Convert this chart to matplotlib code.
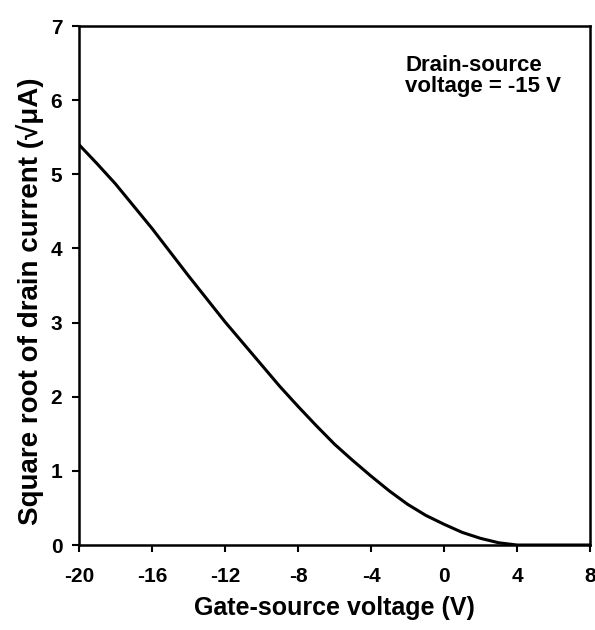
import numpy as np
import matplotlib
matplotlib.use("Agg")
import matplotlib.pyplot as plt

# Transfer curve, one point per volt
gate_v = [-20, -19, -18, -17, -16, -15, -14, -13, -12, -11, -10, -9, -8, -7,
          -6, -5, -4, -3, -2, -1, 0, 1, 2, 3, 4, 5, 6, 7, 8]
sqrt_id = [5.40, 5.14, 4.87, 4.57, 4.27, 3.95, 3.63, 3.32, 3.01, 2.72, 2.43,
           2.14, 1.87, 1.61, 1.36, 1.14, 0.93, 0.73, 0.55, 0.40, 0.28, 0.17,
           0.09, 0.03, 0.0, 0.0, 0.0, 0.0, 0.0]

x_ticks = [-20, -16, -12, -8, -4, 0, 4, 8]
y_ticks = [0, 1, 2, 3, 4, 5, 6, 7]

plt.rcParams['font.family'] = ['Liberation Sans', 'DejaVu Sans']
plt.rcParams['font.weight'] = 'bold'
plt.rcParams['axes.unicode_minus'] = False

fig = plt.figure(figsize=(5.95, 6.3), dpi=100)
ax = fig.add_axes([0.1328, 0.1349, 0.8588, 0.8238])

ax.plot(gate_v, sqrt_id, color='black', linewidth=2.2)

ax.set_xlim(-20, 8)
ax.set_ylim(0, 7)
ax.set_xticks(x_ticks)
ax.set_yticks(y_ticks)
ax.tick_params(direction='out', length=5, width=1.5, labelsize=15, pad=7)
ax.tick_params(axis='x', pad=11)
for lbl in ax.get_xticklabels() + ax.get_yticklabels():
    lbl.set_fontweight('bold')
for s in ax.spines.values():
    s.set_linewidth(1.8)

ax.set_xlabel("Gate-source voltage (V)", fontsize=18, fontweight='bold', labelpad=7)
ax.set_ylabel("Square root of drain current (\u221a\u03bcA)", fontsize=20,
              fontweight='bold')
ax.yaxis.set_label_coords(-0.068, 0.47)

ax.text(0.638, 0.945, "Drain-source\nvoltage = -15 V", transform=ax.transAxes,
        fontsize=16, fontweight='bold', va='top', ha='left', linespacing=1.0)

fig.savefig("out.png", dpi=100)
